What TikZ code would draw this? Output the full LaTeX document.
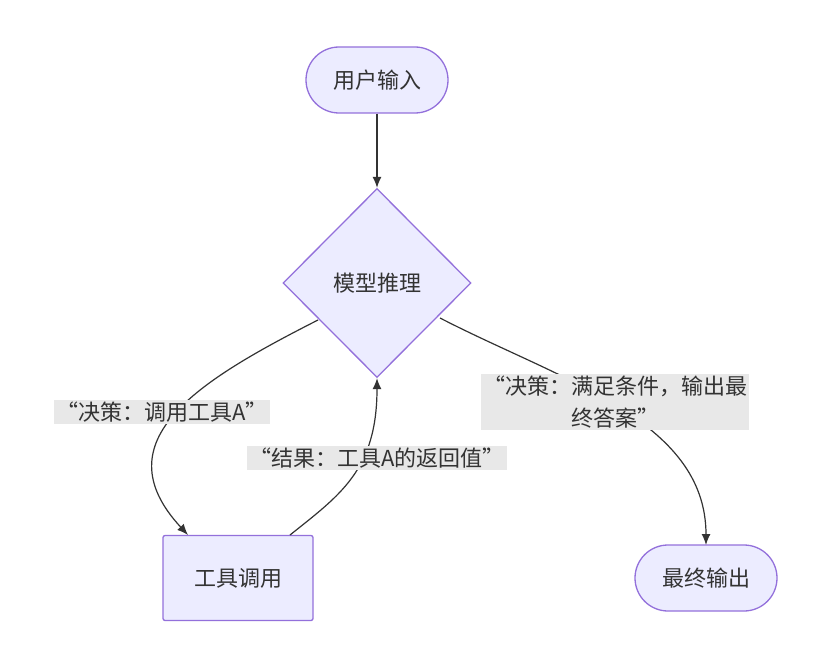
\documentclass[tikz,border=0pt]{standalone}
\usepackage{fontspec}
\setmainfont{Noto Sans CJK SC}
\usetikzlibrary{shapes.geometric,arrows.meta}
\definecolor{nodefill}{HTML}{ECECFF}
\definecolor{nodeline}{HTML}{9370DB}
\definecolor{edgeline}{HTML}{333333}
\definecolor{lblfill}{HTML}{E8E8E8}
\tikzset{
  box/.style={draw=nodeline,fill=nodefill,line width=1.3pt,font=\fontsize{22}{28}\selectfont,text=edgeline},
  pill/.style={box,rounded corners=33pt,minimum width=142pt,minimum height=66pt},
  rect/.style={box,rounded corners=2pt,minimum width=150pt,minimum height=85pt},
  dia/.style={box,diamond,minimum width=188pt,minimum height=189pt,inner sep=0pt},
  lbl/.style={fill=lblfill,font=\fontsize{22}{32}\selectfont,text=edgeline,inner sep=2pt,align=center},
  edge/.style={draw=edgeline,line width=1.2pt,-{Latex[length=11pt,width=9pt]}}
}
\begin{document}
\begin{tikzpicture}[x=1pt,y=-1pt]
\useasboundingbox (0,0) rectangle (821,666);
\node[pill](input)at(377,80){用户输入};
\node[dia](think)at(377,283){模型推理};
\node[rect](tool)at(238,578){工具调用};
\node[pill](final)at(706,578){最终输出};
\coordinate(T1)at(318,320);
\coordinate(T2)at(440,318);
\coordinate(B1)at(290,535);
\coordinate(B2)at(188,535);
\coordinate(F1)at(706,545);
\draw[edge](input)--(think);
\draw[edge](T1)..controls(200,380)and(100,440)..(B2);
\draw[edge](B1)..controls(340,495)and(377,470)..(think.south);
\draw[edge](T2)..controls(560,380)and(706,420)..(F1);
\node[lbl](l1)at(162,412){“决策：调用工具A”};
\node[lbl](l2)at(377,458){“结果：工具A的返回值”};
\node[lbl](l3)at(615,402){“决策：满足条件，输出最\\终答案”};
\end{tikzpicture}
\end{document}
